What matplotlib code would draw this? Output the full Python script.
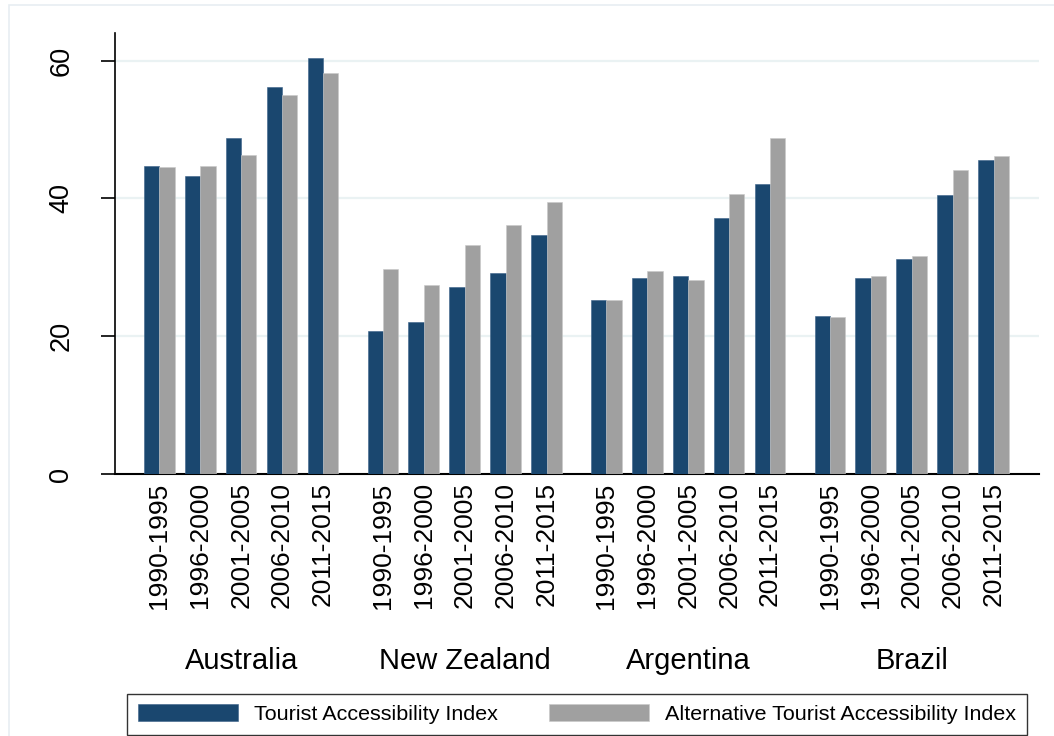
import numpy as np
import matplotlib
matplotlib.use("Agg")
import matplotlib.pyplot as plt
from matplotlib.patches import Patch, Rectangle
import matplotlib.transforms as mtransforms

plt.rcParams['font.family'] = ['Liberation Sans', 'DejaVu Sans']

countries = ['Australia', 'New Zealand', 'Argentina', 'Brazil']
periods = ['1990-1995', '1996-2000', '2001-2005', '2006-2010', '2011-2015']

# Tourist Accessibility Index, per country, per period
tai = {
    'Australia':   [44.7, 43.3, 48.7, 56.2, 60.3],
    'New Zealand': [20.8, 22.0, 27.1, 29.2, 34.7],
    'Argentina':   [25.2, 28.4, 28.8, 37.1, 42.1],
    'Brazil':      [22.9, 28.4, 31.2, 40.5, 45.5],
}
# Alternative Tourist Accessibility Index
atai = {
    'Australia':   [44.6, 44.7, 46.3, 55.0, 58.2],
    'New Zealand': [29.7, 27.4, 33.2, 36.1, 39.5],
    'Argentina':   [25.2, 29.4, 28.1, 40.6, 48.8],
    'Brazil':      [22.8, 28.8, 31.7, 44.1, 46.2],
}

navy = '#1a476f'
grey = '#a0a0a0'

W, H = 1054, 736
fig = plt.figure(figsize=(W / 100, H / 100), dpi=100)
fig.patch.set_facecolor('white')

# outer graph region frame (Stata style)
fig.add_artist(Rectangle((9 / W, -0.1), 1.2, 1 - 5 / H + 0.1, transform=fig.transFigure,
                         fill=False, edgecolor='#e8eef2', linewidth=1.2))

ax = fig.add_axes([114.7 / W, 1 - 474 / H, (1039 - 114.7) / W, (474 - 33) / H])

group_pitch = 5.46
bw = 0.374
centers = []
for g, c in enumerate(countries):
    x = g * group_pitch + np.arange(len(periods))
    centers.extend(x)
    ax.bar(x - bw / 2, tai[c], width=bw, color=navy, edgecolor='#3a6188', linewidth=0.4, zorder=3)
    ax.bar(x + bw / 2, atai[c], width=bw, color=grey, edgecolor='#c8c8c8', linewidth=0.4, zorder=3)

ax.set_xlim(-1.09, 21.49)
ax.set_ylim(0, 64)

ax.set_yticks([0, 20, 40, 60])
ax.set_yticklabels(['0', '20', '40', '60'], rotation=90, va='center', fontsize=19.5)
ax.tick_params(axis='y', length=10, width=1.2, pad=19, direction='out')
for y in [20, 40, 60]:
    ax.axhline(y, color='#eaf2f3', linewidth=1.6, zorder=1)

ax.set_xticks(centers)
ax.set_xticklabels(periods * len(countries), rotation=90, fontsize=19)
ax.tick_params(axis='x', length=0, pad=6)

ax.spines['top'].set_visible(False)
ax.spines['right'].set_visible(False)
ax.spines['left'].set_linewidth(1.2)
ax.spines['bottom'].set_linewidth(1.5)

trans = mtransforms.blended_transform_factory(ax.transData, fig.transFigure)
for g, c in enumerate(countries):
    ax.text(g * group_pitch + 2, 1 - 661 / H, c, transform=trans, ha='center', va='center',
            fontsize=21)

handles = [Patch(facecolor=navy, edgecolor='#3a6188', linewidth=0.4),
           Patch(facecolor=grey, edgecolor='#c8c8c8', linewidth=0.4)]
leg = fig.legend(handles, ['Tourist Accessibility Index', 'Alternative Tourist Accessibility Index'],
                 loc='lower left', bbox_to_anchor=(127 / W, 1 - 735 / H, 900 / W, 49 / H),
                 mode='expand', ncol=2, fontsize=15.45, frameon=True, fancybox=False,
                 borderaxespad=0, handlelength=4.65, handleheight=0.85, handletextpad=0.78,
                 borderpad=0.5, columnspacing=2.0)
leg.get_frame().set_edgecolor('black')
leg.get_frame().set_linewidth(1.0)

fig.savefig('out.png', dpi=100)
